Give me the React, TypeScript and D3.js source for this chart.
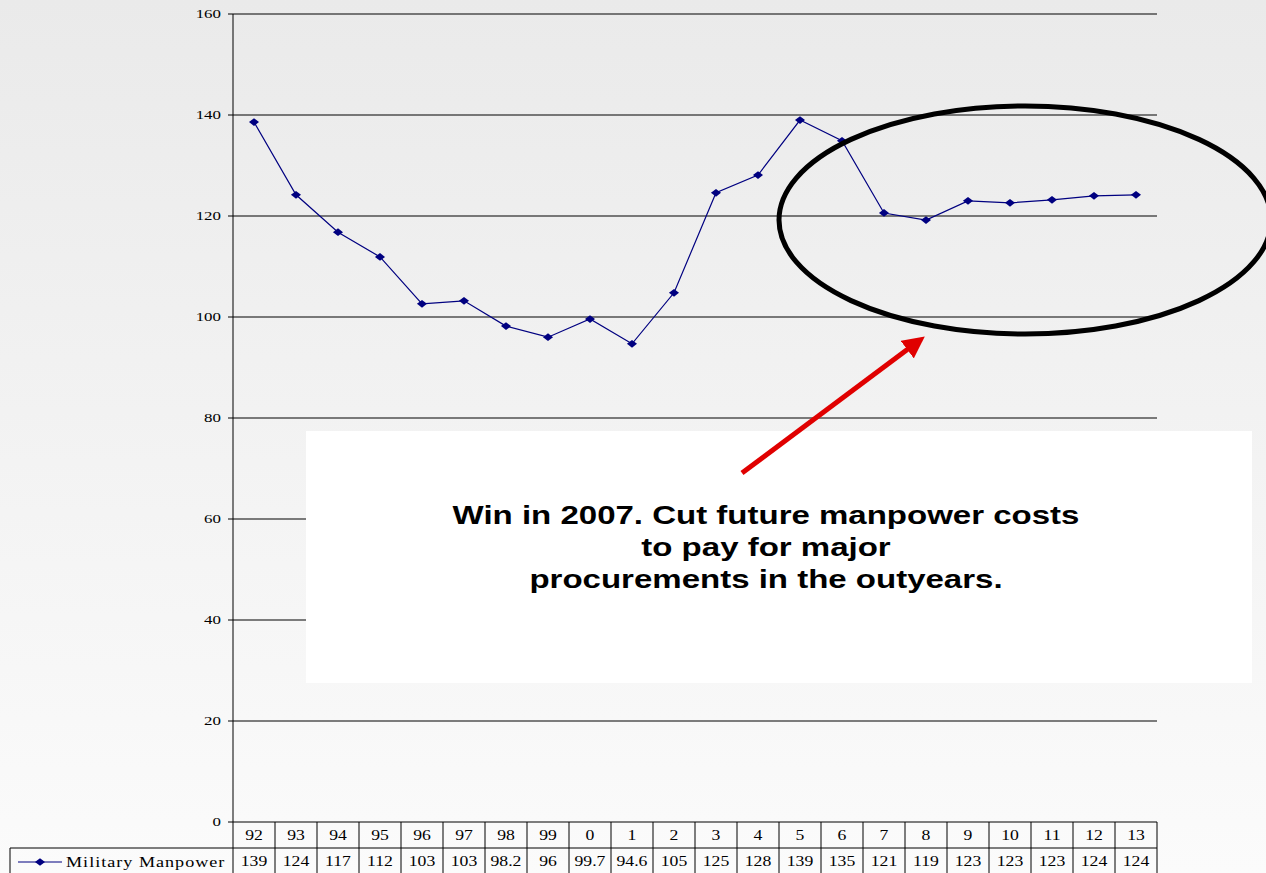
import React from 'react';
import * as d3 from 'd3';

// fiscal years shown on the category axis / first table row
const years = ['92', '93', '94', '95', '96', '97', '98', '99', '0', '1', '2', '3', '4', '5', '6', '7', '8', '9', '10', '11', '12', '13'];
// plotted values
const manpower = [138.6, 124.2, 116.8, 111.9, 102.6, 103.2, 98.2, 96.0, 99.6, 94.7, 104.8, 124.6, 128.1, 139.0, 134.9, 120.6, 119.2, 123.0, 122.6, 123.2, 124.0, 124.2];
// the rounded numbers printed in the data table
const tableLabels = ['139', '124', '117', '112', '103', '103', '98.2', '96', '99.7', '94.6', '105', '125', '128', '139', '135', '121', '119', '123', '123', '123', '124', '124'];
const yTicks = [0, 20, 40, 60, 80, 100, 120, 140, 160];
const seriesName = 'Military Manpower';
const noteLines = ['Win in 2007. Cut future manpower costs', 'to pay for major', 'procurements in the outyears.'];

const W = 1266;
const H = 873;
// the slide was stretched sideways, so all glyphs are wider than normal
const SX = 1.3;

function Txt(props: { x: number; y: number; anchor?: string; sx?: number; children: React.ReactNode }) {
  const { x, y, anchor = 'start', sx = SX, children } = props;
  return (
    <g transform={`translate(${x},${y}) scale(${sx},1)`}>
      <text x={0} y={0} textAnchor={anchor}>{children}</text>
    </g>
  );
}

export default function App() {
  const x = d3.scaleBand().domain(years).range([233, 1157]).padding(0);
  const y = d3.scaleLinear().domain([0, 160]).range([822, 14]);
  const cx = (d: string) => (x(d) as number) + x.bandwidth() / 2;

  const line = d3.line<number>()
    .x((_, i) => cx(years[i]))
    .y((v) => y(v));

  const diamond = d3.symbol().type(d3.symbolSquare).size(30)() || '';
  const dTf = `scale(1.3,1) rotate(45)`;
  const serif = '"Liberation Serif", "Times New Roman", serif';
  const sans = '"Liberation Sans", Arial, sans-serif';

  return (
    <svg width={W} height={H} style={{ position: 'absolute', left: 0, top: 0 }}>
      <defs>
        <linearGradient id="bg" x1="0" y1="0" x2="0" y2="1">
          <stop offset="0" stopColor="#eaeaea" />
          <stop offset="1" stopColor="#fbfbfb" />
        </linearGradient>
        <marker id="head" viewBox="0 0 10 10" refX="5" refY="5" markerWidth="4.4" markerHeight="4.4" orient="auto">
          <path d="M0,0 L10,5 L0,10 z" fill="#e00000" />
        </marker>
      </defs>
      <rect x={0} y={0} width={W} height={H} fill="url(#bg)" />

      {/* grid + y axis */}
      <g fontFamily={serif} fontSize={13}>
        {yTicks.map((t) => (
          <g key={t}>
            {t > 0 && <line x1={233} x2={1157} y1={y(t)} y2={y(t)} stroke="#000" strokeWidth={1} />}
            <line x1={228} x2={233} y1={y(t)} y2={y(t)} stroke="#000" />
            <Txt x={221} y={y(t) + 4} anchor="end">{t}</Txt>
          </g>
        ))}
      </g>
      <line x1={233} x2={233} y1={14} y2={822} stroke="#000" />

      {/* series */}
      <path d={line(manpower) || ''} fill="none" stroke="#000080" strokeWidth={1.2} />
      {manpower.map((v, i) => (
        <g key={i} transform={`translate(${cx(years[i])},${y(v)})`}>
          <path d={diamond} transform={dTf} fill="#000080" />
        </g>
      ))}

      {/* data table */}
      <g fontFamily={serif} fontSize={14.5}>
        <line x1={233} x2={1157} y1={822} y2={822} stroke="#000" />
        <line x1={10} x2={1157} y1={848} y2={848} stroke="#000" />
        <line x1={10} x2={10} y1={848} y2={873} stroke="#000" />
        {years.map((yr) => (
          <line key={'v' + yr} x1={(x(yr) as number) + x.bandwidth()} x2={(x(yr) as number) + x.bandwidth()} y1={822} y2={873} stroke="#000" />
        ))}
        <line x1={233} x2={233} y1={822} y2={873} stroke="#000" />
        {years.map((yr, i) => (
          <g key={'t' + yr}>
            <Txt x={cx(yr)} y={840} anchor="middle" sx={1.22}>{yr}</Txt>
            <Txt x={cx(yr)} y={866} anchor="middle" sx={1.22}>{tableLabels[i]}</Txt>
          </g>
        ))}
        <line x1={18} x2={62} y1={862} y2={862} stroke="#000080" strokeWidth={1.2} />
        <g transform="translate(40,862)">
          <path d={diamond} transform={dTf} fill="#000080" />
        </g>
        <g letterSpacing={0.8}>
          <Txt x={66} y={867} sx={1.25}>{seriesName}</Txt>
        </g>
      </g>

      {/* annotation */}
      <ellipse cx={1025} cy={220} rx={246} ry={114} fill="none" stroke="#000" strokeWidth={5} />
      <rect x={306} y={431} width={946} height={252} fill="#fff" />
      <line x1={742} y1={473} x2={916} y2={343} stroke="#e00000" strokeWidth={5} markerEnd="url(#head)" />
      <g fontFamily={sans} fontWeight="bold" fontSize={26}>
        {noteLines.map((s, i) => (
          <Txt key={i} x={766} y={524 + i * 32} anchor="middle" sx={1.27}>{s}</Txt>
        ))}
      </g>
    </svg>
  );
}
